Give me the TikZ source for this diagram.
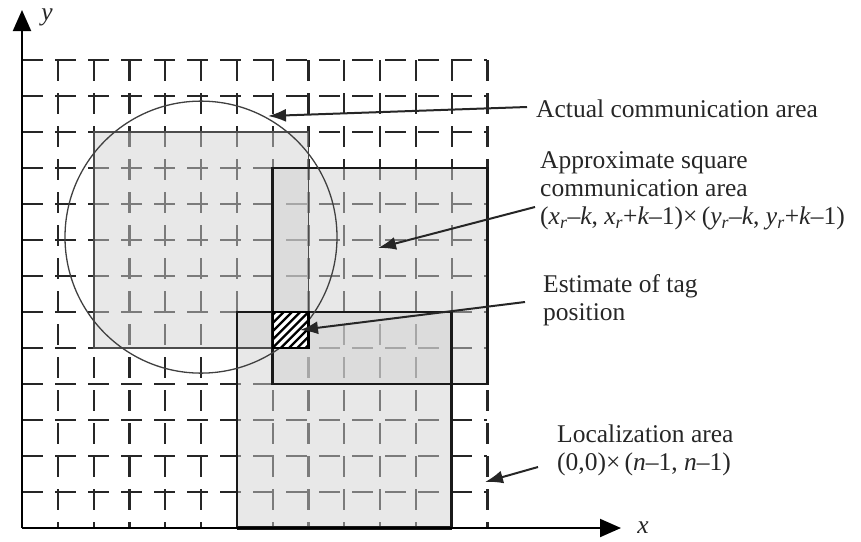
\documentclass[tikz,border=0pt]{standalone}
\usepackage{fontspec}
\setmainfont{Liberation Serif}
\usetikzlibrary{arrows.meta}
\begin{document}
\begin{tikzpicture}[x=1pt,y=-1pt]
\useasboundingbox (0,0) rectangle (861,541);
\tikzset{
 gridline/.style={draw=black!85, line width=2.2pt, dash pattern=on 21pt off 12pt},
 areafill/.style={fill=black!18, fill opacity=0.5},
 lab/.style={font=\fontsize{25.5}{28}\selectfont, inner sep=0pt, anchor=west, align=left, text=black!85},
 pointer/.style={draw=black!85, line width=2pt, -{Latex[length=18pt,width=13pt]}},
 axis/.style={draw=black, line width=2pt, -{Triangle[length=21pt,width=18pt]}},
 axlab/.style={font=\fontsize{25.5}{28}\selectfont\itshape, inner sep=0pt, text=black!85},
}
\begin{scope}[shift={(22,528)}, x=35.8pt, y=36pt]
 % grid
 \foreach \i in {1,...,13} \draw[gridline] (\i,13) -- (\i,0);
 \foreach \j in {1,...,13} \draw[gridline] (0,\j) -- (13,\j);
 % shaded areas
 \path[areafill] (2,5) rectangle (8,11);
 \path[areafill] (7,4) rectangle (13,10);
 \path[areafill] (6,0) rectangle (12,6);
 % borders
 \draw[draw=black!70, line width=1.8pt] (2,5) rectangle (8,11);
 \draw[draw=black!90, line width=2.5pt] (7,4) rectangle (13,10);
 \draw[draw=black!90, line width=2.5pt] (6,0) -- (6,6) -- (12,6) -- (12,0);
 \draw[draw=black!90, line width=4pt] (6,0) -- (12,0);
 % actual communication circle
 \draw[draw=black!75, line width=1.3pt] (5,8.08) circle[radius=136pt];
 % hatched estimate cell
 \fill[white] (7,5) rectangle (8,6);
 \begin{scope}
  \clip (7,5) rectangle (8,6);
  \foreach \k in {-5,...,5} \draw[line width=2.3pt] ({7+\k*0.23},5) -- ++(1,1);
 \end{scope}
 \draw[line width=2.2pt] (7,5) rectangle (8,6);
\end{scope}
% axes
\coordinate (O) at (22,528);
\coordinate (Xend) at (621,528);
\coordinate (Yend) at (22,10);
\draw[axis] (O) -- (Xend);
\draw[axis] (O) -- (Yend);
\node[axlab] (xl) at (643,528) {x};
\node[axlab] (yl) at (47,17) {y};
% labels
\node[lab] (t1) at (536,109) {Actual communication area};
\node[lab] (t2) at (540,191) {Approximate square\\communication area\\(\textit{x}\textsubscript{\textit{r}}–\textit{k}, \textit{x}\textsubscript{\textit{r}}+\textit{k}–1)×\,(\textit{y}\textsubscript{\textit{r}}–\textit{k}, \textit{y}\textsubscript{\textit{r}}+\textit{k}–1)};
\node[lab] (t3) at (543,300) {Estimate of tag\\position};
\node[lab] (t4) at (557,450) {Localization area\\(0,0)×\,(\textit{n}–1, \textit{n}–1)};
% pointer coordinates
\coordinate (s1) at (527,107);
\coordinate (p1) at (268,116);
\coordinate (s2) at (535,207);
\coordinate (p2) at (378,248);
\coordinate (s3) at (525,302);
\coordinate (p3) at (300,330);
\coordinate (s4) at (538,467);
\coordinate (p4) at (485,482);
\draw[pointer] (s1) -- (p1);
\draw[pointer] (s2) -- (p2);
\draw[pointer] (s3) -- (p3);
\draw[pointer] (s4) -- (p4);
\end{tikzpicture}
\end{document}
